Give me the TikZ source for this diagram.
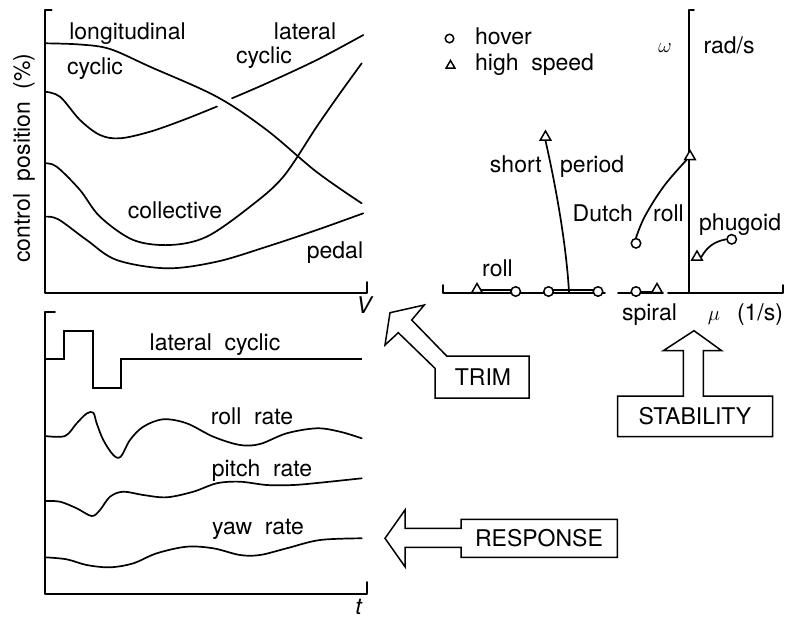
\documentclass[tikz,border=0pt]{standalone}
\usepackage{fontspec}
\setmainfont{TeX Gyre Heros}
\usetikzlibrary{shapes.geometric}
\newcommand\ws{\hspace{0.55em}}
\begin{document}
\begin{tikzpicture}[x=1pt,y=-1pt,
  lw/.style={line width=1.7pt, line join=round, line cap=round},
  curve/.style={lw, smooth, tension=0.55},
  lbl/.style={inner sep=0pt, font=\fontsize{23}{27}\selectfont},
  hov/.style={circle, draw, line width=1.5pt, fill=white, inner sep=0pt, minimum size=9.5pt},
  hs/.style={regular polygon, regular polygon sides=3, draw, line width=1.5pt, fill=white, inner sep=0pt, minimum size=12pt},
  outline/.style={line width=1.5pt, line join=miter}]
\useasboundingbox (0,0) rectangle (788,619);

% ---------------- TRIM plot ----------------
\coordinate (ta1) at (51.7,10);
\coordinate (ta2) at (45,10);
\coordinate (ta3) at (45,293.3);
\coordinate (ta4) at (366.7,293.3);
\coordinate (ta5) at (366.7,282);
\draw[lw] (ta1) -- (ta2) -- (ta3) -- (ta4) -- (ta5);
% longitudinal cyclic
\draw[curve] plot coordinates {(45,43.3) (80,44.5) (110,49) (150,66.7) (216.7,96.7) (266.7,130) (316.7,172) (361.7,203.3)};
% lateral cyclic (with gap)
\draw[curve] plot coordinates {(45,91.7) (60,96.7) (80,120) (100,135) (120,138.3) (150,131.7) (183.3,120) (217,106.5)};
\draw[curve] plot coordinates {(232,98.3) (266.7,83.3) (316.7,60) (363.3,35)};
% collective
\draw[curve] plot coordinates {(45,163.3) (56.7,166.7) (80,190) (100,216.7) (133.3,240) (170,245) (206.7,236.7) (250,206.7) (283.3,176.7) (316.7,126.7) (340,93.3) (361.7,63.3)};
% pedal
\draw[curve] plot coordinates {(45,216.7) (58.3,219.3) (86.7,240) (116.7,260) (166.7,268.3) (216.7,261.7) (266.7,246.7) (316.7,230) (363.3,213.3)};

\node[lbl, anchor=base] (tlong) at (127.5,39.3) {longitudinal};
\node[lbl, anchor=base] (tcyc1) at (95,74) {cyclic};
\node[lbl, anchor=base] (tlat) at (305,39.3) {lateral};
\node[lbl, anchor=base] (tcyc2) at (264,63.3) {cyclic};
\node[lbl, anchor=base] (tcoll) at (175,218.3) {collective};
\node[lbl, anchor=base] (tped) at (335,258.3) {pedal};
\node[lbl, anchor=base, rotate=90] (tcp) at (30,158) {control\ws position\ws (\%)};
\node[lbl, anchor=base] (tV) at (365,313) {\textit{V}};

% ---------------- STABILITY plot ----------------
\coordinate (sa0) at (443.3,285);
\coordinate (sa1) at (443.3,292.7);
\coordinate (sa2) at (605,292.7);
\coordinate (sa3) at (618,292.7);
\coordinate (sa4) at (663,292.7);
\coordinate (sa5) at (668,292.7);
\coordinate (sa6) at (783,292.7);
\coordinate (sa7) at (783,285);
\draw[lw] (sa0) -- (sa1) -- (sa2);
\draw[lw] (sa3) -- (sa4);
\draw[lw] (sa5) -- (sa6) -- (sa7);
\coordinate (va0) at (689.3,292.7);
\coordinate (va1) at (689.3,10);
\coordinate (va2) at (694,10);
\draw[lw] (va0) -- (va1) -- (va2);

% roll
\coordinate (r1) at (477,290.3);
\coordinate (r2) at (515.7,290.3);
\draw[lw] (r1) -- (r2);
% short period real part
\coordinate (s1) at (548.5,290.3);
\coordinate (s2) at (598,290.3);
\draw[lw] (s1) -- (s2);
% spiral
\coordinate (p1) at (636,291.5);
\coordinate (p2) at (657,291.5);
\draw[lw] (p1) -- (p2);

\node[hs] (rollT) at (477,289.5) {};
\node[hov] (rollC) at (515.7,291.5) {};
\node[hov] (spC1) at (548.5,291.5) {};
\node[hov] (spC2) at (598,291.5) {};
\node[hov] (spiC) at (636,291.5) {};
\node[hs] (spiT) at (657,289.5) {};

% short period branch
\node[hs] (spT) at (545.5,137) {};
\coordinate (spA) at (569,292);
\draw[lw] (spT.south) .. controls (554,178) and (566,240) .. (spA);

% Dutch roll
\node[hov] (drC) at (636,243.3) {};
\node[hs] (drT) at (690,156.5) {};
\draw[lw] plot[smooth, tension=0.6] coordinates {(drC.north) (645,216) (664,186) (drT.south west)};

% phugoid
\node[hs] (phT) at (697,257) {};
\node[hov] (phC) at (731.7,239.3) {};
\draw[lw] (phT.east) to[bend left=25] (phC.west);

% legend
\node[hov, minimum size=8.5pt] (lgC) at (449.5,38.5) {};
\node[hs, minimum size=10pt] (lgT) at (450.5,65.5) {};
\node[lbl, anchor=base west] (lhov) at (475,44) {hover};
\node[lbl, anchor=base west] (lhs) at (475,70) {high\ws speed};

\node[inner sep=0pt, font=\fontsize{21}{24}\selectfont] (tomega) at (665,48) {$\omega$};
\node[lbl, anchor=base west] (trad) at (703.3,53) {rad/s};
\node[lbl, anchor=base east] (tshort) at (542,172) {short};
\node[lbl, anchor=base west] (tper) at (560,172) {period};
\node[lbl, anchor=base east] (tdutch) at (633,221.7) {Dutch};
\node[lbl, anchor=base west] (troll1) at (653,221.7) {roll};
\node[lbl, anchor=base west] (tphug) at (699,230) {phugoid};
\node[lbl, anchor=base] (troll2) at (497.5,276.7) {roll};
\node[lbl, anchor=base] (tspir) at (649.5,320) {spiral};
\node[inner sep=0pt, anchor=base, font=\fontsize{21}{24}\selectfont] (tmu) at (714,320) {$\mu$};
\node[lbl, anchor=base] (tunit) at (760,320) {(1/s)};

% ---------------- RESPONSE plot ----------------
\coordinate (ra1) at (55,311.7);
\coordinate (ra2) at (45,311.7);
\coordinate (ra3) at (45,594.3);
\coordinate (ra4) at (366.7,594.3);
\coordinate (ra5) at (366.7,582);
\draw[lw] (ra1) -- (ra2) -- (ra3) -- (ra4) -- (ra5);
% lateral cyclic input
\draw[lw, line join=miter, line cap=butt] (45,359) -- (64,359) -- (64,330.7) -- (92.7,330.7) -- (92.7,388.3) -- (120.7,388.3) -- (120.7,359) -- (361.7,359);
% roll rate
\draw[curve] plot coordinates {(45,436) (65,436) (76.7,423.3) (86.7,413.5) (93.3,412.7) (96.7,423.3) (103.3,440) (113.3,455) (120.7,456.7) (130,440) (143.3,426.7) (163.3,419.3) (186.7,423.3) (213.3,436.7) (240,445) (260,444) (286.7,433.3) (316.7,428.3) (340,431.7) (361.7,438.3)};
% pitch rate
\draw[curve] plot coordinates {(45,501) (60,501.7) (76.7,508.3) (91.7,516) (100,510) (110,496.7) (123.3,491.7) (143.3,495) (166.7,497.3) (193.3,491.7) (216.7,483.3) (240,481.7) (266.7,485) (293.3,485) (320,482.7) (361.7,478.3)};
% yaw rate
\draw[curve] plot coordinates {(45,557.3) (66.7,559.3) (86.7,565) (110,567.3) (133.3,563.3) (156.7,553.3) (186.7,546.7) (213.3,548.3) (240,555) (260,555) (286.7,548.3) (320,540) (361.7,538.3)};

\node[lbl, anchor=base] (tlc) at (215,350) {lateral\ws cyclic};
\node[lbl, anchor=base] (trr) at (252,424.3) {roll\ws rate};
\node[lbl, anchor=base] (tpr) at (262,476) {pitch\ws rate};
\node[lbl, anchor=base] (tyr) at (258,534.3) {yaw\ws rate};
\node[lbl, anchor=base] (tt) at (359,614) {\textit{t}};

% ---------------- block arrows ----------------
\draw[outline] (446.7,356) -- (529,356) -- (529,398) -- (435,398) -- (435,368.3) -- (398.3,332.7) -- (385,345) -- (390,312.7) -- (424.3,305) -- (411.7,320) -- cycle;
\node[lbl] (trim) at (483,377) {TRIM};

\draw[outline] (683.3,396) -- (617.7,396) -- (617.7,436.7) -- (772.7,436.7) -- (772.7,396) -- (703.3,396) -- (703.3,350.7) -- (721.7,350.7) -- (694,330.7) -- (663.3,350.7) -- (683.3,350.7) -- cycle;
\node[lbl] (stab) at (695,416) {STABILITY};

\draw[outline] (461,528.3) -- (461,519.3) -- (617.3,519.3) -- (617.3,557.3) -- (461,557.3) -- (461,547.3) -- (405,547.3) -- (405,566.7) -- (385,538.3) -- (405,510) -- (405,528.3) -- cycle;
\node[lbl] (resp) at (539,538) {RESPONSE};
\end{tikzpicture}
\end{document}
